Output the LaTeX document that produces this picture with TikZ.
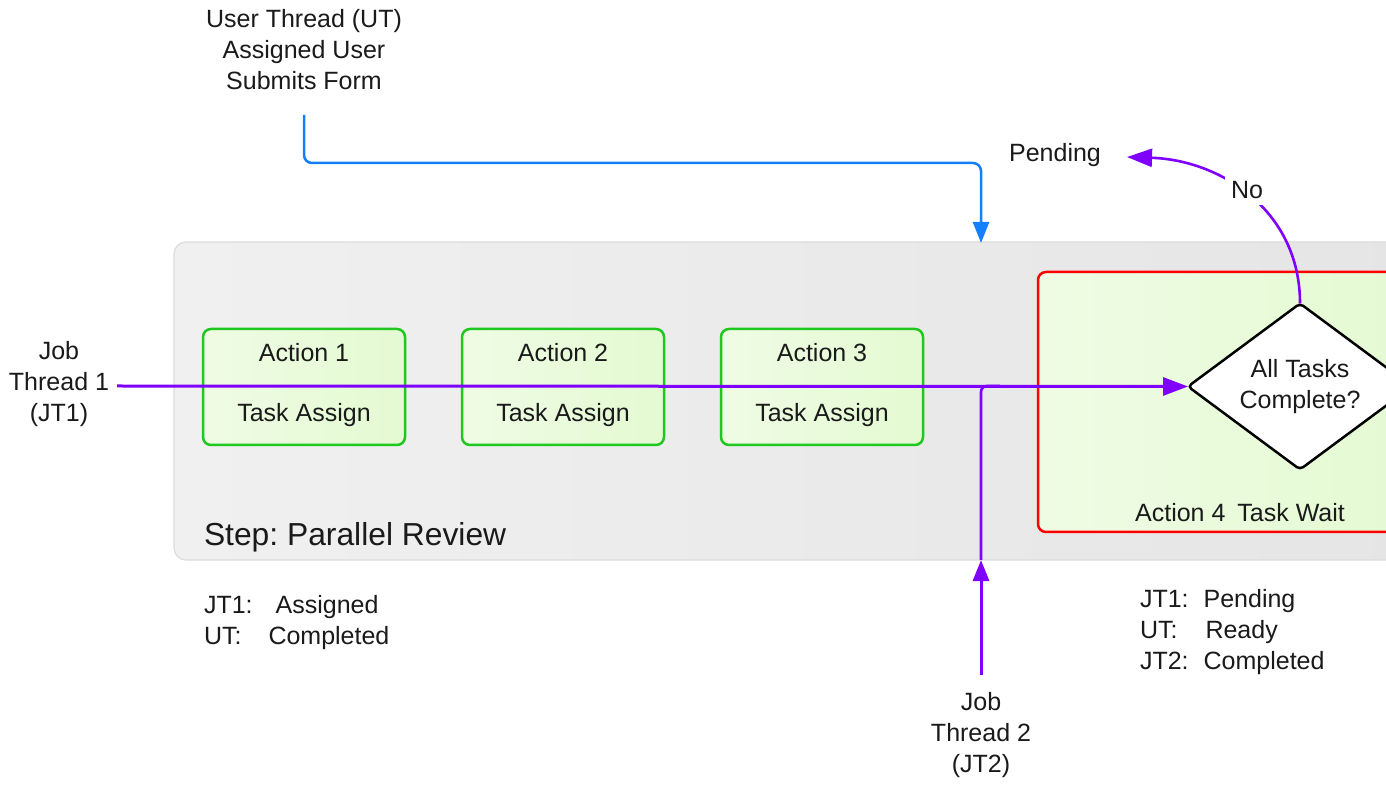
\documentclass[tikz,border=0pt]{standalone}
\usepackage{fontspec}
\setmainfont{Liberation Sans}
\usetikzlibrary{arrows.meta,shapes.geometric}
\definecolor{purp}{RGB}{128,0,255}
\definecolor{bluel}{RGB}{20,128,255}
\definecolor{gborder}{RGB}{30,200,30}
\definecolor{gfillA}{RGB}{239,252,228}
\definecolor{gfillB}{RGB}{228,250,210}
\definecolor{grayA}{RGB}{240,240,240}
\definecolor{grayB}{RGB}{229,229,229}
\definecolor{grayline}{RGB}{220,220,220}
\definecolor{txt}{RGB}{26,26,26}
\frenchspacing
\begin{document}
\frenchspacing
\begin{tikzpicture}[x=0.5pt,y=-0.5pt,
  every node/.style={text=txt, font=\fontsize{12.5}{15.5}\selectfont, inner sep=0pt, outer sep=0pt},
  graybox/.style={draw=grayline, line width=0.6pt, rounded corners=6pt, left color=grayA, right color=grayB, anchor=north west},
  actbox/.style={draw=gborder, line width=1.25pt, rounded corners=4pt, left color=gfillA, right color=gfillB, minimum width=101pt, minimum height=58pt},
  waitbox/.style={draw=red, line width=1.25pt, rounded corners=4pt, left color=gfillA, right color=gfillB, anchor=north west},
  decision/.style={shape=diamond, draw=black, fill=white, line width=1.25pt, rounded corners=2pt, aspect=1.6, minimum width=112pt, minimum height=83pt, align=center},
  purpline/.style={draw=purp, line width=1.5pt},
  blueline/.style={draw=bluel, line width=1.25pt},
  tipA/.style={-{Triangle[length=12.5pt,width=9pt]}},
  tipB/.style={-{Triangle[length=10.5pt,width=8pt]}}
]
\clip (0,0) rectangle (1386,785);
\fill[white] (0,0) rectangle (1386,785);

% containers
\node[graybox, minimum width=628pt, minimum height=159pt] (step) at (174,242) {};
\node[anchor=west, font=\fontsize{15.9}{18}\selectfont] (steplbl) at (204,537) {Step: Parallel Review};
\node[waitbox, minimum width=196pt, minimum height=130pt] (wait) at (1038,272) {};
\node (waitlbl) at (1240,513) {Action 4\hspace{6pt}Task Wait};

% action boxes
\node[actbox] (a1) at (304,387) {};
\node[actbox] (a2) at (563,387) {};
\node[actbox] (a3) at (822,387) {};
\node (a1t) at (304,353) {Action 1};
\node (a1b) at (304,415) {Task Assign};
\node (a2t) at (563,353) {Action 2};
\node (a2b) at (563,415) {Task Assign};
\node (a3t) at (822,353) {Action 3};
\node (a3b) at (822,415) {Task Assign};

% decision
\node[decision] (dia) at (1300,386.5) {All Tasks\\Complete?};

% text labels
\node[align=center] (ut) at (304,50) {User Thread (UT)\\Assigned User\\Submits Form};
\node[align=center] (jt1) at (59,384) {Job\\Thread 1\\(JT1)};
\node[align=center] (jt2) at (981,735) {Job\\Thread 2\\(JT2)};
\node (pend) at (1055,155) {Pending};
\node[anchor=west, align=left] (st1) at (204,622.5) {JT1:\hspace{11.5pt}Assigned\\UT:\hspace{13.5pt}Completed};
\node[anchor=west, align=left] (st2) at (1140,632) {JT1:\hspace{7.5pt}Pending\\UT:\hspace{14pt}Ready\\JT2:\hspace{7.5pt}Completed};

% coordinates
\coordinate (utstart) at (304,115);
\coordinate (bluetip) at (981,243);
\coordinate (jt1end) at (117,386);
\coordinate (jt2top) at (981,675);
\coordinate (jt2tip) at (981,560);
\coordinate (jt2join) at (1000,386);
\coordinate (pendtip) at (1127,157);

% connectors
\draw[blueline, tipB, rounded corners=4pt] (utstart) -- (304,163) -- (981,163) -- (bluetip);
\draw[purpline, tipA] (jt1end) -- (dia.west);
\draw[purpline, tipB] (jt2top) -- (jt2tip);
\draw[purpline, line width=1.3pt, rounded corners=3pt] (jt2tip) -- (981,386) -- (jt2join);
\draw[purpline, line width=1.3pt, tipA] (dia.north) .. controls (1300,210) and (1220,160) .. (pendtip);
\node[fill=white, inner sep=3pt] (no) at (1247,190) {No};
\end{tikzpicture}
\end{document}
